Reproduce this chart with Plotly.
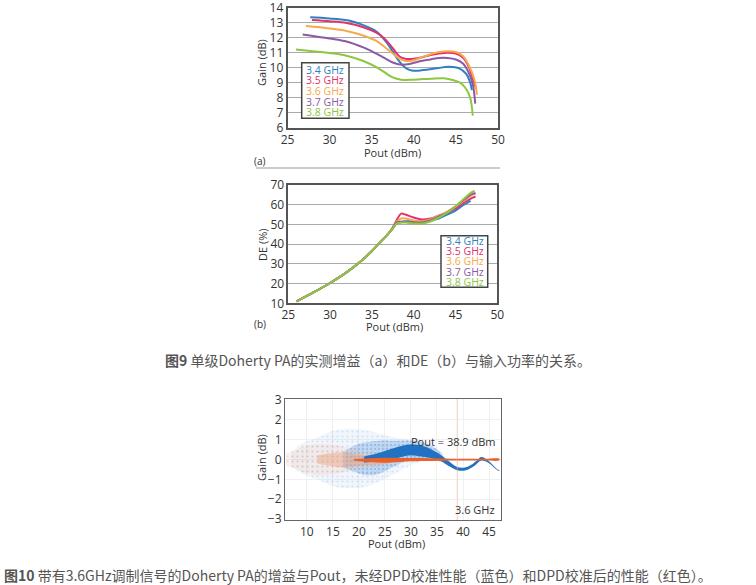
import plotly.graph_objects as go

# ---- Fig 9(a): gain vs Pout ----
freqs = ["3.4 GHz", "3.5 GHz", "3.6 GHz", "3.7 GHz", "3.8 GHz"]
colors = ["#2f7fc1", "#e0336c", "#f7a94b", "#8a5aa5", "#8dc63f"]

gain_x = [
    [27.7, 30, 32.4, 34, 35.6, 36.7, 37.5, 38.3, 39.1, 39.9, 41.1, 42.7, 44.2, 45.4, 46.2, 46.7, 46.9],
    [27.9, 30, 32, 34, 35.5, 36.5, 37.5, 38.3, 39, 40, 41, 42, 43, 44, 45, 45.8, 46.5, 47, 47.4],
    [27.2, 30, 32, 34, 35.5, 36.5, 37.5, 38.3, 39, 40, 41, 42, 43, 44, 45, 45.8, 46.5, 47.2, 47.5],
    [26.8, 30, 32, 34, 35.5, 36.5, 37.5, 38.5, 39.5, 40.5, 42, 43, 44, 45, 45.8, 46.5, 47, 47.3],
    [26.0, 28, 30, 32, 34, 35.5, 36.5, 37.5, 38.5, 40, 42, 43.5, 44.5, 45.5, 46.2, 46.7, 47.0],
]
gain_y = [
    [13.36, 13.28, 13.13, 12.84, 12.4, 11.73, 11.07, 10.4, 9.96, 9.8, 9.84, 9.96, 10.07, 9.96, 9.6, 9.0, 8.5],
    [13.18, 13.1, 12.98, 12.7, 12.35, 11.95, 11.3, 10.75, 10.6, 10.6, 10.7, 10.85, 10.95, 11.0, 10.95, 10.7, 10.1, 9.3, 8.6],
    [12.78, 12.62, 12.45, 12.15, 11.8, 11.4, 10.95, 10.6, 10.45, 10.5, 10.7, 10.9, 11.05, 11.1, 11.05, 10.8, 10.2, 9.2, 8.2],
    [12.22, 11.95, 11.75, 11.35, 10.95, 10.65, 10.35, 10.2, 10.25, 10.4, 10.55, 10.65, 10.65, 10.55, 10.3, 9.7, 8.9, 7.6],
    [11.22, 11.1, 10.98, 10.8, 10.45, 10.05, 9.7, 9.35, 9.2, 9.2, 9.27, 9.3, 9.2, 9.0, 8.6, 8.0, 6.8],
]

# ---- Fig 9(b): drain efficiency vs Pout ----
de_x = [
    [26, 28, 30, 32, 34, 35, 36, 37, 37.5, 38, 39, 40, 41, 42, 43, 44, 45, 46, 46.8],
    [26, 28, 30, 32, 34, 35, 36, 37, 37.5, 38, 38.5, 39, 40, 41, 42, 43, 44, 45, 46, 47, 47.4],
    [26, 28, 30, 32, 34, 35, 36, 37, 37.5, 38, 38.5, 39, 40, 41, 42, 43, 44, 45, 46, 47, 47.4],
    [26, 28, 30, 32, 34, 35, 36, 37, 37.5, 38, 39, 40, 41, 42, 43, 44, 45, 46, 47, 47.4],
    [26, 28, 30, 32, 34, 35, 36, 37, 37.5, 38, 39, 40, 41, 42, 43, 44, 45, 46, 47, 47.3],
]
de_y = [
    [11, 15.5, 20.3, 25.8, 32.5, 36.5, 41, 45.5, 48, 50.5, 51.5, 51.5, 51.5, 52, 53, 55, 57, 60, 62],
    [11, 15.5, 20.3, 25.8, 32.5, 36.5, 41, 45.5, 48.5, 52.5, 55.5, 55, 53.5, 52.5, 53, 54.5, 56, 58, 61, 63.5, 64],
    [11, 15.5, 20.3, 25.8, 32.5, 36.5, 41, 45.5, 48, 51.5, 53, 53, 52, 51.5, 52.5, 54.5, 56.5, 59, 62, 65, 65.5],
    [11, 15.5, 20.3, 25.8, 32.5, 36.5, 41, 45.5, 48, 51, 51.5, 51, 51, 52, 54, 56, 59, 62.5, 65.5, 66],
    [11, 15.5, 20.3, 25.8, 32.5, 36.5, 41, 45.5, 48, 50.5, 51, 50.5, 50.5, 51.5, 53.5, 56, 59, 63, 66.5, 67],
]

# ---- Fig 10: gain deviation envelopes (without DPD = blue, with DPD = orange) ----
blue_cloud_x = [7, 9, 12, 15, 18, 21, 24, 27, 30, 33, 35]
blue_cloud_hi = [0.3, 0.8, 1.1, 1.45, 1.55, 1.5, 1.3, 1.1, 1.0, 0.85, 0.6]
blue_cloud_lo = [-0.3, -0.7, -1.0, -1.35, -1.45, -1.4, -1.1, -0.7, -0.3, 0.0, 0.0]

blue_mid_x = [17, 20, 22, 24, 26, 28, 30, 32, 34, 36]
blue_mid_hi = [0.4, 0.8, 0.9, 0.95, 0.95, 0.95, 0.95, 0.9, 0.65, 0.3]
blue_mid_lo = [-0.4, -0.7, -0.8, -0.7, -0.45, -0.2, 0.0, 0.05, 0.05, -0.1]

blue_core_hi_x = [21, 23.4, 26.3, 29.5, 32, 34.3, 35.9, 37.1, 39, 41, 42.9, 43.5, 44.8, 46.4, 47]
blue_core_hi = [0.15, 0.3, 0.54, 0.75, 0.7, 0.46, 0.2, -0.05, -0.39, -0.35, 0.0, 0.12, -0.05, -0.45, -0.55]
blue_core_lo_x = [21, 23.4, 26.3, 29.5, 32, 34.3, 35.9, 37.1, 39, 40.4, 42.3, 43.5, 44.8, 46.4, 47]
blue_core_lo = [-0.15, -0.1, 0.0, 0.2, 0.15, 0.04, -0.1, -0.3, -0.55, -0.55, -0.3, -0.05, -0.15, -0.5, -0.58]

orange_cloud_x = [6, 8, 10, 13, 16, 19, 22, 25]
orange_cloud_hi = [0.3, 0.5, 0.7, 0.8, 0.7, 0.5, 0.35, 0.2]
orange_cloud_lo = [-0.3, -0.5, -0.7, -0.8, -0.7, -0.5, -0.4, -0.25]

orange_mid_x = [12, 14, 17, 20, 23, 26]
orange_mid_hi = [0.2, 0.3, 0.35, 0.25, 0.15, 0.1]
orange_mid_lo = [-0.2, -0.3, -0.4, -0.3, -0.25, -0.15]

orange_core_x = [19, 22, 25, 28, 32, 36, 40, 44, 47]
orange_core_hi = [0.02, 0.06, 0.09, 0.08, 0.07, 0.05, 0.04, 0.04, 0.04]
orange_core_lo = [-0.05, -0.13, -0.16, -0.12, -0.08, -0.06, -0.05, -0.05, -0.04]

pout_marker = 38.9

W, H = 756, 585


def px(x):
    return x / W


def py(y):
    return 1 - y / H


def band(xh, hi, xl, lo):
    return list(xh) + list(xl)[::-1], list(hi) + list(lo)[::-1]


fig = go.Figure()

for i in range(5):
    fig.add_trace(go.Scatter(x=gain_x[i], y=gain_y[i], mode="lines", line=dict(color=colors[i], width=2, shape="spline"),
                             xaxis="x", yaxis="y", showlegend=False))
for i in range(5):
    fig.add_trace(go.Scatter(x=de_x[i], y=de_y[i], mode="lines", line=dict(color=colors[i], width=2, shape="spline"),
                             xaxis="x2", yaxis="y2", showlegend=False))

# Fig 10 layers, sparse clouds first, dense bands on top
layers = [
    (blue_cloud_x, blue_cloud_hi, blue_cloud_x, blue_cloud_lo, "rgba(150,190,230,0.15)",
     dict(shape=".", fgcolor="rgba(80,140,210,0.4)", size=5, solidity=0.15)),
    (blue_mid_x, blue_mid_hi, blue_mid_x, blue_mid_lo, "rgba(110,165,225,0.35)",
     dict(shape=".", fgcolor="rgba(40,110,200,0.5)", size=4, solidity=0.3)),
    (orange_cloud_x, orange_cloud_hi, orange_cloud_x, orange_cloud_lo, "rgba(240,185,160,0.2)",
     dict(shape=".", fgcolor="rgba(230,140,100,0.45)", size=5, solidity=0.15)),
    (orange_mid_x, orange_mid_hi, orange_mid_x, orange_mid_lo, "rgba(235,150,110,0.4)", None),
    (blue_core_hi_x, blue_core_hi, blue_core_lo_x, blue_core_lo, "#2272c3", None),
    (orange_core_x, orange_core_hi, orange_core_x, orange_core_lo, "#e8612a", None),
]
for xh, hi, xl, lo, fc, pat in layers:
    bx, by = band(xh, hi, xl, lo)
    tr = go.Scatter(x=bx, y=by, mode="lines", fill="toself", fillcolor=fc, line=dict(width=0, shape="spline"),
                    xaxis="x3", yaxis="y3", showlegend=False, hoverinfo="skip")
    if pat:
        tr.fillpattern = pat
    fig.add_trace(tr)

fig.add_trace(go.Scatter(x=[pout_marker, pout_marker], y=[-3.05, 3.05], mode="lines",
                         line=dict(color="rgba(240,170,140,0.6)", width=1), xaxis="x3", yaxis="y3", showlegend=False))

FONT = "Open Sans, Lato, sans-serif"
tick_font = dict(family=FONT, size=12, color="#333")

box = dict(showline=True, linecolor="#555", linewidth=1.5, mirror=True, ticks="", tickfont=tick_font,
           zeroline=False, automargin=False, ticklabeloverflow="allow")
box3 = dict(box, linecolor="#666", linewidth=1.2)

fig.update_layout(
    width=W, height=H, margin=dict(l=0, r=0, t=0, b=0),
    paper_bgcolor="white", plot_bgcolor="white",
    xaxis=dict(domain=[px(287.5), px(498)], range=[25, 50], dtick=5, showgrid=False, anchor="y", **box),
    yaxis=dict(domain=[py(127.7), py(7.7)], range=[6, 14], dtick=1, showgrid=True, gridcolor="#aaa", anchor="x", **box),
    xaxis2=dict(domain=[px(288.3), px(497.3)], range=[25, 50], dtick=5, showgrid=False, anchor="y2", **box),
    yaxis2=dict(domain=[py(303.3), py(185)], range=[10, 70], dtick=10, showgrid=True, gridcolor="#aaa", anchor="x2", **box),
    xaxis3=dict(domain=[px(285), px(501)], range=[5.8, 47.3], tickvals=[10, 15, 20, 25, 30, 35, 40, 45],
                showgrid=True, gridcolor="#f0f0f0", anchor="y3", **box3),
    yaxis3=dict(domain=[py(520), py(399)], range=[-3.05, 3.05], dtick=1, showgrid=True, gridcolor="#f0f0f0",
                anchor="x3", **box3),
)


def label(x, y, text, size=11, angle=0, xanchor="center", color="#333"):
    fig.add_annotation(xref="paper", yref="paper", x=px(x), y=py(y), xanchor=xanchor, yanchor="middle",
                       text=text, textangle=angle, showarrow=False, font=dict(family=FONT, size=size, color=color))


# axis titles
label(261, 63, "Gain (dB)", angle=-90)
label(392, 153, "Pout (dBm)")
label(262, 245, "DE (%)", angle=-90)
label(394, 326, "Pout (dBm)")
label(261, 458, "Gain (dB)", angle=-90)
label(396, 543, "Pout (dBm)")


# in-plot frequency keys: white framed box with coloured labels
def key(x0, y0, x1, y1, first, step):
    fig.add_shape(type="rect", xref="paper", yref="paper", x0=px(x0), x1=px(x1), y0=py(y1), y1=py(y0),
                  fillcolor="white", line=dict(color="#444", width=1.5), layer="above")
    for i, (f, c) in enumerate(zip(freqs, colors)):
        label(x0 + 2.5, first + i * step, f, size=10.5, xanchor="left", color=c)


key(301.7, 62.7, 349, 118.3, 70, 10.5)
key(441, 235.7, 487.7, 287.3, 240.5, 10.4)

label(252, 161, "(a)", size=10, xanchor="left")
label(252, 324, "(b)", size=10, xanchor="left")
fig.add_shape(type="line", xref="paper", yref="paper", x0=px(256), x1=px(500), y0=py(168), y1=py(168),
              line=dict(color="#bbb", width=1.5))

label(498, 441, "Pout = 38.9 dBm", xanchor="right")
label(497, 509, "3.6 GHz", xanchor="right")

cap_font = dict(family="Noto Sans CJK SC, sans-serif", size=14, color="#555")
fig.add_annotation(xref="paper", yref="paper", x=px(378), y=py(360), xanchor="center", yanchor="middle",
                   text="<b>图9</b> 单级Doherty PA的实测增益（a）和DE（b）与输入功率的关系。", showarrow=False, font=cap_font)
fig.add_annotation(xref="paper", yref="paper", x=px(2), y=py(575), xanchor="left", yanchor="middle",
                   text="<b>图10</b> 带有3.6GHz调制信号的Doherty PA的增益与Pout，未经DPD校准性能（蓝色）和DPD校准后的性能（红色）。",
                   showarrow=False, font=cap_font)

# drop the default page margin so the figure sits at the window's top-left corner
fig.write_html("out.html", config={"displayModeBar": False},
               post_script="document.body.style.margin='0px';")
